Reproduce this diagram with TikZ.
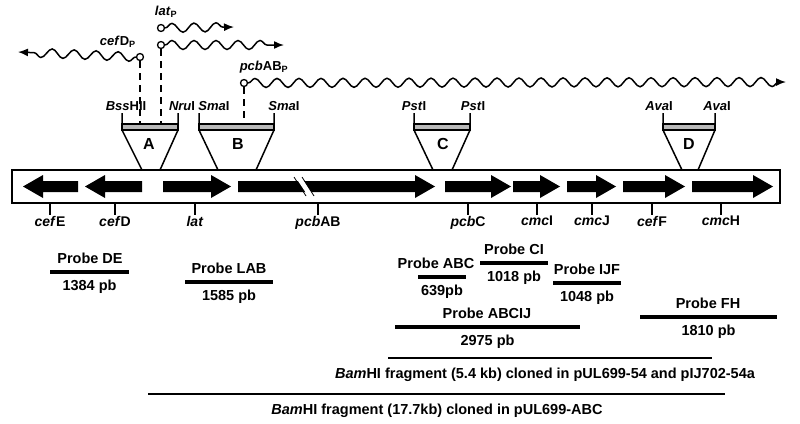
\documentclass[tikz,border=0pt]{standalone}
\usepackage{fontspec}
\setmainfont{Liberation Sans}
\usetikzlibrary{decorations.pathmorphing,arrows.meta}
\newcommand\garr[2]{% tail x, tip x
  \fill (#1,181) -- ({#2-20*sign(#2-#1)},181) -- ({#2-20*sign(#2-#1)},175) -- (#2,186.5) -- ({#2-20*sign(#2-#1)},198) -- ({#2-20*sign(#2-#1)},192) -- (#1,192) -- cycle;}
\begin{document}
\begin{tikzpicture}[x=1pt,y=-1pt,font=\fontsize{14.5}{16}\selectfont\bfseries,
  wave/.style={decorate,decoration={snake,segment length=22,amplitude=4.5,post length=7},-{Latex[length=10,width=8]},line width=1.5},
  prom/.style={circle,draw,line width=1.3,inner sep=0,minimum size=7,fill=white},
  pdash/.style={line width=1.5,dash pattern=on 7 off 5},
  hatch/.style={draw,line width=1.5,fill=gray!55},
  lbl/.style={inner sep=1},
  small/.style={inner sep=1,font=\fontsize{13}{14}\selectfont\bfseries},
  probe/.style={line width=4}]
\useasboundingbox (0,0) rectangle (800,423);
% promoters
\node[prom] (pD) at (140,57) {};
\node[prom] (pL1) at (161,28) {};
\node[prom] (pL2) at (161,45) {};
\node[prom] (pP) at (244,83) {};
\draw[wave] (pD.west) -- (18,52);
\draw[wave] (pL1.east) -- (234,27);
\draw[wave] (pL2.east) -- (284,45);
\draw[wave] (pP.east) -- (786,82);
\node[small,anchor=east] at (137,42) {\textit{cef}D\textsubscript{P}};
\node[small] at (166,12) {\textit{lat}\textsubscript{P}};
\node[small] at (264,67) {\textit{pcb}AB\textsubscript{P}};
\draw[pdash] (pD.south) -- (140,124);
\draw[pdash] (pL2.south) -- (161,124);
\draw[pdash] (pP.south) -- (244,124);
% main box
\draw[line width=2] (12,170) rectangle (780,203);
% fragments
\foreach \a/\b/\c/\d/\n/\lx in {122/178/142/160/A/149,199/274/218/256/B/238,414/470/433/452/C/443,663/715/682/698/D/689}{
  \draw[line width=1.5] (\a,113) -- (\a,130) -- (\c,170) (\b,113) -- (\b,130) -- (\d,170);
  \draw[hatch] (\a,124) rectangle (\b,130);
  \node[font=\fontsize{16}{17}\selectfont\bfseries] at (\lx,144) {\n};
}
\node[small] at (126,106) {\textit{Bss}HII};
\node[small] at (182,106) {\textit{Nru}I};
\node[small] at (214,106) {\textit{Sma}I};
\node[small] at (284,106) {\textit{Sma}I};
\node[small] at (414,106) {\textit{Pst}I};
\node[small] at (473,106) {\textit{Pst}I};
\node[small] at (659,106) {\textit{Ava}I};
\node[small] at (717,106) {\textit{Ava}I};
% gene arrows
\garr{78}{23}
\garr{142}{85}
\garr{163}{231}
\garr{238}{435}
\fill[white] (296,178) -- (302,178) -- (314,196) -- (308,196) -- cycle;
\draw[line width=0.8] (294,177) -- (306,196) (302,177) -- (314,196);
\garr{445}{511}
\garr{513}{560}
\garr{567}{616}
\garr{623}{685}
\garr{692}{773}
% gene labels
\foreach \x/\t in {50/\textit{cef}E,115/\textit{cef}D,195/\textit{lat},318/\textit{pcb}AB,468/\textit{pcb}C,537/\textit{cmc}I,592/\textit{cmc}J,652/\textit{cef}F,721/\textit{cmc}H}{
  \node[lbl,anchor=north,font=\fontsize{14}{15}\selectfont\bfseries] (g\x) at (\x,215) {\t};
  \draw[line width=1.5] (\x,203) -- (g\x.north);
}
% probes
\foreach \a/\b/\y/\n/\s/\lx in {50/129/272/Probe DE/1384 pb/90,185/273/282/Probe LAB/1585 pb/229,418/466/277/Probe ABC/639pb/436,480/548/263/Probe CI/1018 pb/514,553/621/283/Probe IJF/1048 pb/587,640/777/317/Probe FH/1810 pb/708,395/580/327/Probe ABCIJ/2975 pb/487}{
  \draw[probe] (\a,\y) -- (\b,\y);
  \node[lbl] at (\lx,\y-14) {\n};
  \node[lbl] at ({(\a+\b)/2},\y+15) {\s};
}
\draw[line width=2] (388,358) -- (712,358);
\node[lbl] at (545,375) {\textit{Bam}HI fragment (5.4 kb) cloned in pUL699-54 and pIJ702-54a};
\draw[line width=2] (148,394) -- (725,394);
\node[lbl] at (437,411) {\textit{Bam}HI fragment (17.7kb) cloned in pUL699-ABC};
\end{tikzpicture}
\end{document}
